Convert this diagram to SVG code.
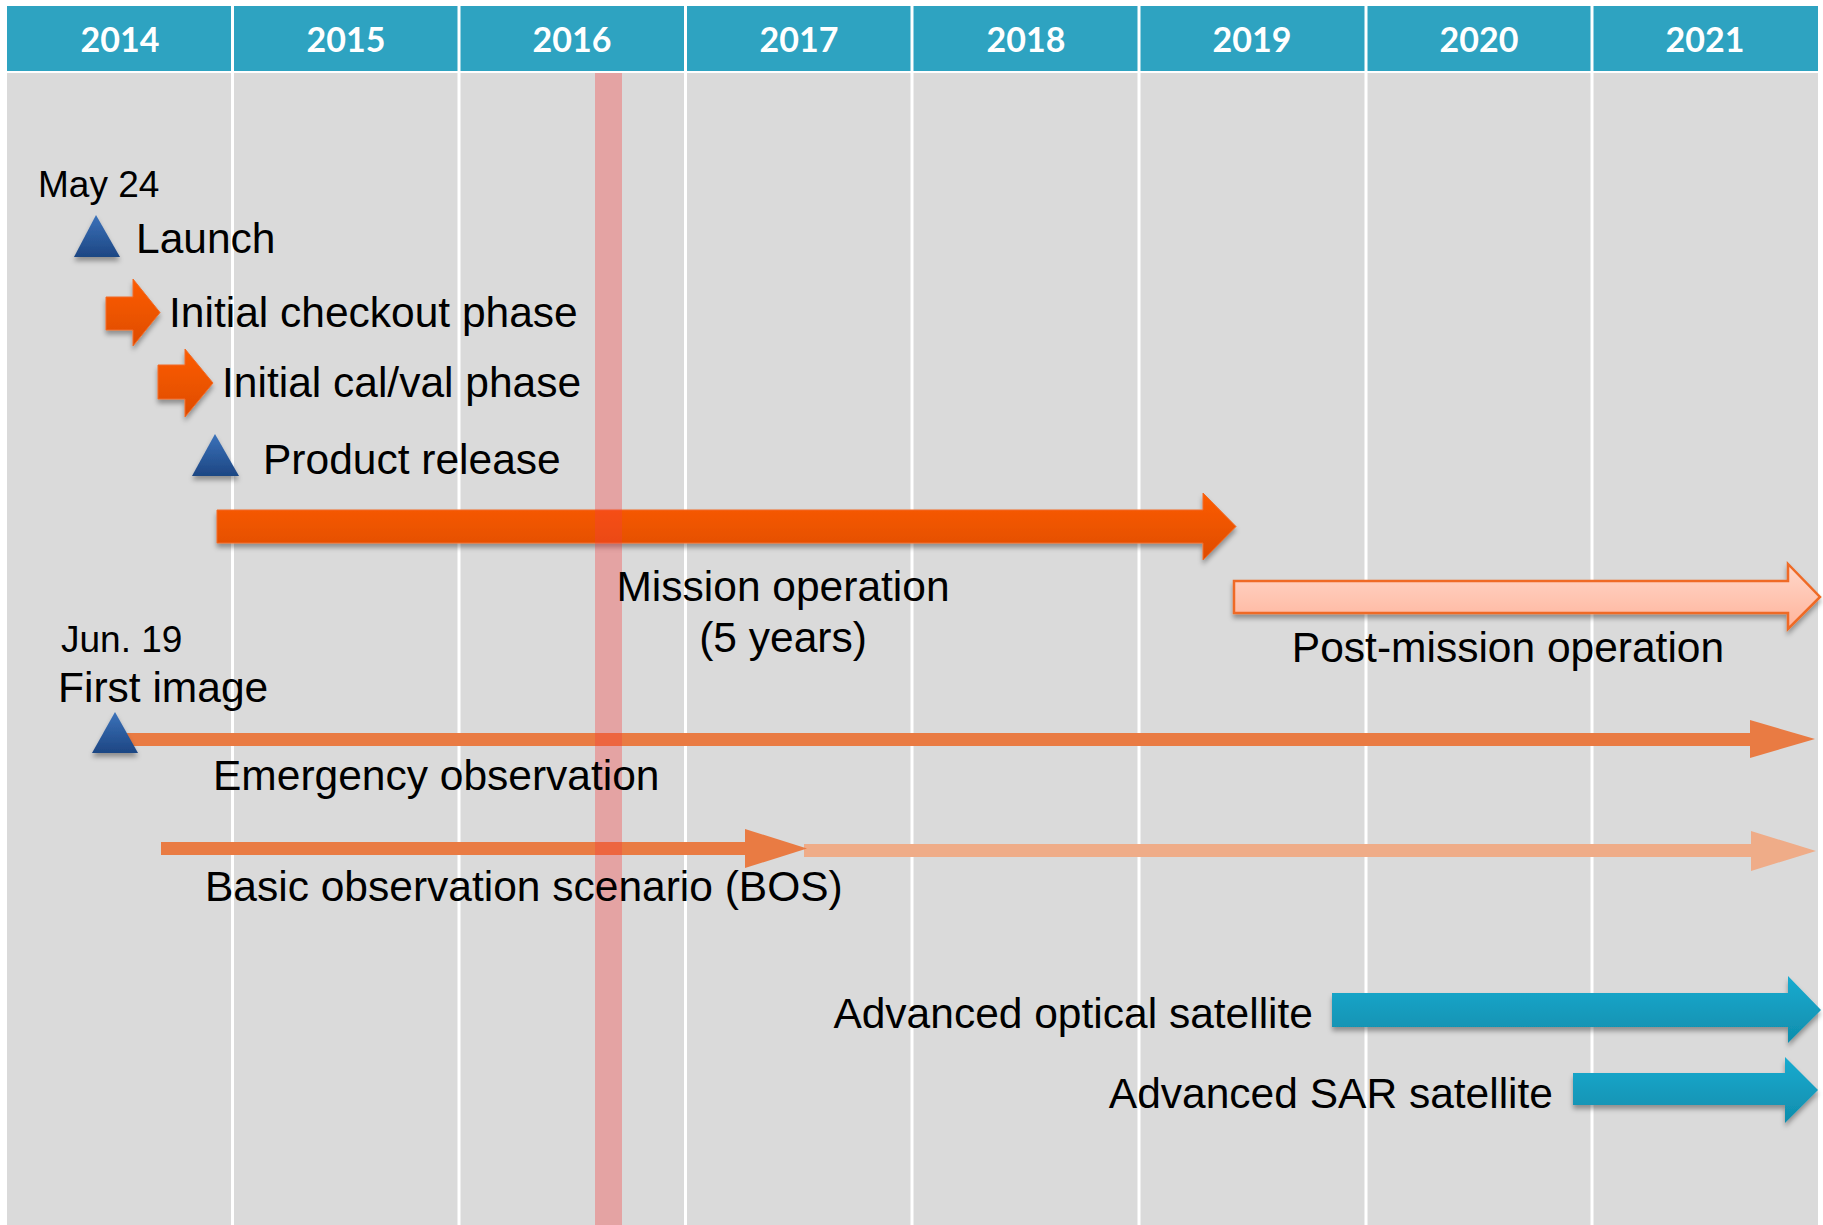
<svg xmlns="http://www.w3.org/2000/svg" width="1823" height="1225" viewBox="0 0 1823 1225">
<defs>
<style>
.yr{font-family:Lato,"Open Sans","Liberation Sans",sans-serif;font-weight:bold;font-size:34px;fill:#ffffff;text-anchor:middle}
.lb{font-family:"Liberation Sans",Arial,sans-serif;font-size:42.5px;fill:#000000}
.dt{font-family:"Liberation Sans",Arial,sans-serif;font-size:37px;fill:#000000}
.grid{stroke:#ffffff;stroke-width:3}
</style>
<linearGradient id="gOrange" x1="0" y1="0" x2="0" y2="1"><stop offset="0" stop-color="#fd5c00"/><stop offset="1" stop-color="#de4c05"/></linearGradient>
<linearGradient id="gBlue" x1="0" y1="0" x2="0" y2="1"><stop offset="0" stop-color="#3b72ba"/><stop offset="1" stop-color="#1d4683"/></linearGradient>
<linearGradient id="gTeal" x1="0" y1="0" x2="0" y2="1"><stop offset="0" stop-color="#1aabd0"/><stop offset="1" stop-color="#0f8dac"/></linearGradient>
<linearGradient id="gPink" x1="0" y1="0" x2="0" y2="1"><stop offset="0" stop-color="#ffd8cb"/><stop offset="1" stop-color="#ffb39a"/></linearGradient>
<filter id="shadow" x="-10%" y="-30%" width="120%" height="170%"><feDropShadow dx="0" dy="4" stdDeviation="2.5" flood-color="#000" flood-opacity="0.35"/></filter>
</defs>
<rect x="0" y="0" width="1823" height="1225" fill="#ffffff"/>
<g id="header">
<rect x="7" y="6" width="1811" height="65" fill="#2ea3c1"/>
<rect x="7" y="73" width="1811" height="1152" fill="#dadada"/>
<g class="grid">
<line x1="232.5" y1="6" x2="232.5" y2="1225"/>
<line x1="459" y1="6" x2="459" y2="1225"/>
<line x1="685.5" y1="6" x2="685.5" y2="1225"/>
<line x1="912" y1="6" x2="912" y2="1225"/>
<line x1="1139" y1="6" x2="1139" y2="1225"/>
<line x1="1366" y1="6" x2="1366" y2="1225"/>
<line x1="1592" y1="6" x2="1592" y2="1225"/>
</g>
<text class="yr" x="120" y="52">2014</text>
<text class="yr" x="346" y="52">2015</text>
<text class="yr" x="572" y="52">2016</text>
<text class="yr" x="799" y="52">2017</text>
<text class="yr" x="1026" y="52">2018</text>
<text class="yr" x="1252" y="52">2019</text>
<text class="yr" x="1479" y="52">2020</text>
<text class="yr" x="1705" y="52">2021</text>
</g>
<g id="connectors">
<rect x="126" y="733" width="1629" height="13" fill="#e97b43"/>
<polygon points="1750,720 1815,739 1750,758" fill="#e97b43"/>
<rect x="804" y="844" width="953" height="13" fill="#efac88"/>
<polygon points="1751,831 1816,851 1751,871" fill="#efac88"/>
<rect x="161" y="842" width="590" height="13" fill="#e97b43"/>
<polygon points="745,829 807,848.5 745,868" fill="#e97b43"/>
</g>
<g id="launch">
<polygon points="96,215 120,257 74,257" fill="url(#gBlue)" filter="url(#shadow)"/>
<text class="dt" x="38" y="197">May 24</text>
<text class="lb" x="136" y="253">Launch</text>
</g>
<g id="checkout">
<polygon points="106,297 133,297 133,279 160,312.5 133,346 133,330 106,330" fill="url(#gOrange)" stroke="#f26a25" stroke-width="1" filter="url(#shadow)"/>
<text class="lb" x="169" y="327">Initial checkout phase</text>
</g>
<g id="calval">
<polygon points="158,365 185,365 185,349 213,383 185,417 185,399 158,399" fill="url(#gOrange)" stroke="#f26a25" stroke-width="1" filter="url(#shadow)"/>
<text class="lb" x="222" y="397">Initial cal/val phase</text>
</g>
<g id="product">
<polygon points="215,434 239,476 192,476" fill="url(#gBlue)" filter="url(#shadow)"/>
<text class="lb" x="263" y="474">Product release</text>
</g>
<g id="mission">
<polygon points="217,510 1203,510 1203,493 1236,526.5 1203,560 1203,543 217,543" fill="url(#gOrange)" stroke="#f26a25" stroke-width="1" filter="url(#shadow)"/>
</g>
<g id="postmission">
<polygon points="1234,581 1788,581 1788,564 1820,597 1788,629 1788,613 1234,613" fill="url(#gPink)" stroke="#ef6a25" stroke-width="2.5" filter="url(#shadow)"/>
</g>
<g id="firstimage">
<polygon points="115,712 138,753 92,753" fill="url(#gBlue)" filter="url(#shadow)"/>
</g>
<g id="optical">
<polygon points="1332,993 1788,993 1788,976 1821,1010 1788,1043 1788,1027 1332,1027" fill="url(#gTeal)" filter="url(#shadow)"/>
</g>
<g id="sar">
<polygon points="1573,1073 1785,1073 1785,1057 1818,1090 1785,1123 1785,1105 1573,1105" fill="url(#gTeal)" filter="url(#shadow)"/>
</g>
<rect id="today" x="595" y="73" width="27" height="1152" fill="#f63d3d" fill-opacity="0.35"/>
<g id="labels">
<text class="lb" x="783" y="601" text-anchor="middle">Mission operation</text>
<text class="lb" x="783" y="652" text-anchor="middle">(5 years)</text>
<text class="lb" x="1508" y="662" text-anchor="middle">Post-mission operation</text>
<text class="dt" x="61" y="652">Jun. 19</text>
<text class="lb" x="58" y="702">First image</text>
<text class="lb" x="213" y="790">Emergency observation</text>
<text class="lb" x="205" y="901">Basic observation scenario (BOS)</text>
<text class="lb" x="1313" y="1028" text-anchor="end">Advanced optical satellite</text>
<text class="lb" x="1553" y="1108" text-anchor="end">Advanced SAR satellite</text>
</g>
</svg>
